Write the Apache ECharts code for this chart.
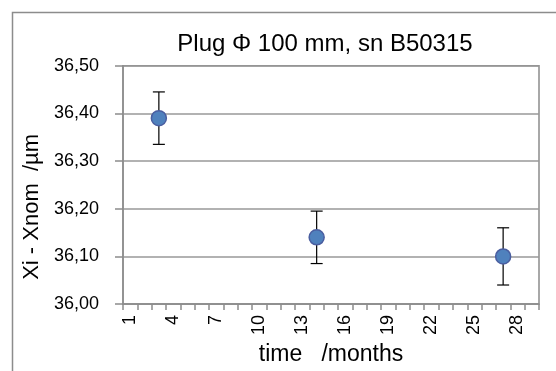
<!DOCTYPE html>
<html>
<head>
<meta charset="utf-8">
<script src="https://cdn.jsdelivr.net/npm/echarts@6/dist/echarts.min.js"></script>
<style>
  html, body { margin: 0; padding: 0; background: #ffffff; }
  #chart { width: 556px; height: 371px; }
</style>
</head>
<body>
<div id="chart"></div>
<script>
// ---- data ----
const chartTitle = 'Plug \u03A6 100 mm, sn B50315';
const xTitle = 'time   /months';
const yTitle = 'Xi - Xnom  /\u00B5m';
const monthCategories = ['1','2','3','4','5','6','7','8','9','10','11','12','13','14','15',
                         '16','17','18','19','20','21','22','23','24','25','26','27','28','29'];
const pointMonths = ['3', '14', '27'];
const xiValues   = [36.39, 36.14, 36.10];
const errLow     = [36.335, 36.085, 36.04];
const errHigh    = [36.445, 36.195, 36.16];
const yMin = 36.0, yMax = 36.5, yStep = 0.1;

const FONT = '"Liberation Sans", Arial, sans-serif';
const chart = echarts.init(document.getElementById('chart'), null, { renderer: 'canvas' });

const scatterData = pointMonths.map((m, i) => [m, xiValues[i]]);
const errData = pointMonths.map((m, i) => [m, errLow[i], errHigh[i]]);

chart.setOption({
  animation: false,
  backgroundColor: '#ffffff',
  title: {
    text: chartTitle,
    left: 320,
    textAlign: 'center',
    top: 27,
    textStyle: { fontFamily: FONT, fontSize: 24, fontWeight: 'normal', color: '#000000' }
  },
  graphic: [{
    type: 'rect',
    shape: { x: 12.5, y: 12.5, width: 600, height: 400 },
    style: { fill: 'none', stroke: '#8c8c8c', lineWidth: 1.5 },
    silent: true, z: -1
  }],
  grid: {
    left: 123, right: 17, top: 65.7, bottom: 65.3,
    show: true, borderColor: '#8c8c8c', borderWidth: 1.5, backgroundColor: 'transparent'
  },
  xAxis: {
    type: 'category',
    data: monthCategories,
    boundaryGap: true,
    name: xTitle,
    nameLocation: 'middle',
    nameGap: 38,
    nameTextStyle: { fontFamily: FONT, fontSize: 23, color: '#000000' },
    axisLine: { show: true, lineStyle: { color: '#8c8c8c', width: 1.5 } },
    axisTick: { show: true, interval: 0, length: 6, lineStyle: { color: '#8c8c8c', width: 1.5 } },
    axisLabel: {
      interval: 2, rotate: 90, margin: 11,
      fontFamily: FONT, fontSize: 18, color: '#000000'
    },
    splitLine: { show: false }
  },
  yAxis: {
    type: 'value',
    min: yMin, max: yMax, interval: yStep,
    name: yTitle,
    nameLocation: 'middle',
    nameGap: 74,
    nameRotate: 90,
    nameTextStyle: { fontFamily: FONT, fontSize: 22, color: '#000000', padding: [0, 44, 0, 0] },
    axisLine: { show: true, lineStyle: { color: '#8c8c8c', width: 1.5 } },
    axisTick: { show: true, length: 8, lineStyle: { color: '#8c8c8c', width: 1.5 } },
    axisLabel: {
      margin: 24,
      fontFamily: FONT, fontSize: 18, color: '#000000',
      formatter: v => v.toFixed(2).replace('.', ',')
    },
    splitLine: { show: true, lineStyle: { color: '#999999', width: 1.5 } }
  },
  series: [
    {
      type: 'custom',
      name: 'error',
      z: 2,
      data: errData,
      renderItem: function (params, api) {
        const lo = api.coord([api.value(0), api.value(1)]);
        const hi = api.coord([api.value(0), api.value(2)]);
        const cap = 6;
        const st = { stroke: '#000000', lineWidth: 1.2 };
        return {
          type: 'group',
          children: [
            { type: 'line', shape: { x1: lo[0], y1: lo[1], x2: hi[0], y2: hi[1] }, style: st },
            { type: 'line', shape: { x1: lo[0] - cap, y1: lo[1], x2: lo[0] + cap, y2: lo[1] }, style: st },
            { type: 'line', shape: { x1: hi[0] - cap, y1: hi[1], x2: hi[0] + cap, y2: hi[1] }, style: st }
          ]
        };
      },
      encode: { x: 0, y: [1, 2] }
    },
    {
      type: 'scatter',
      name: 'Xi - Xnom',
      z: 3,
      data: scatterData,
      symbol: 'circle',
      symbolSize: 15,
      itemStyle: { color: '#4f81bd', borderColor: '#4a5ea0', borderWidth: 1.5, opacity: 1 }
    }
  ]
});
</script>
</body>
</html>
